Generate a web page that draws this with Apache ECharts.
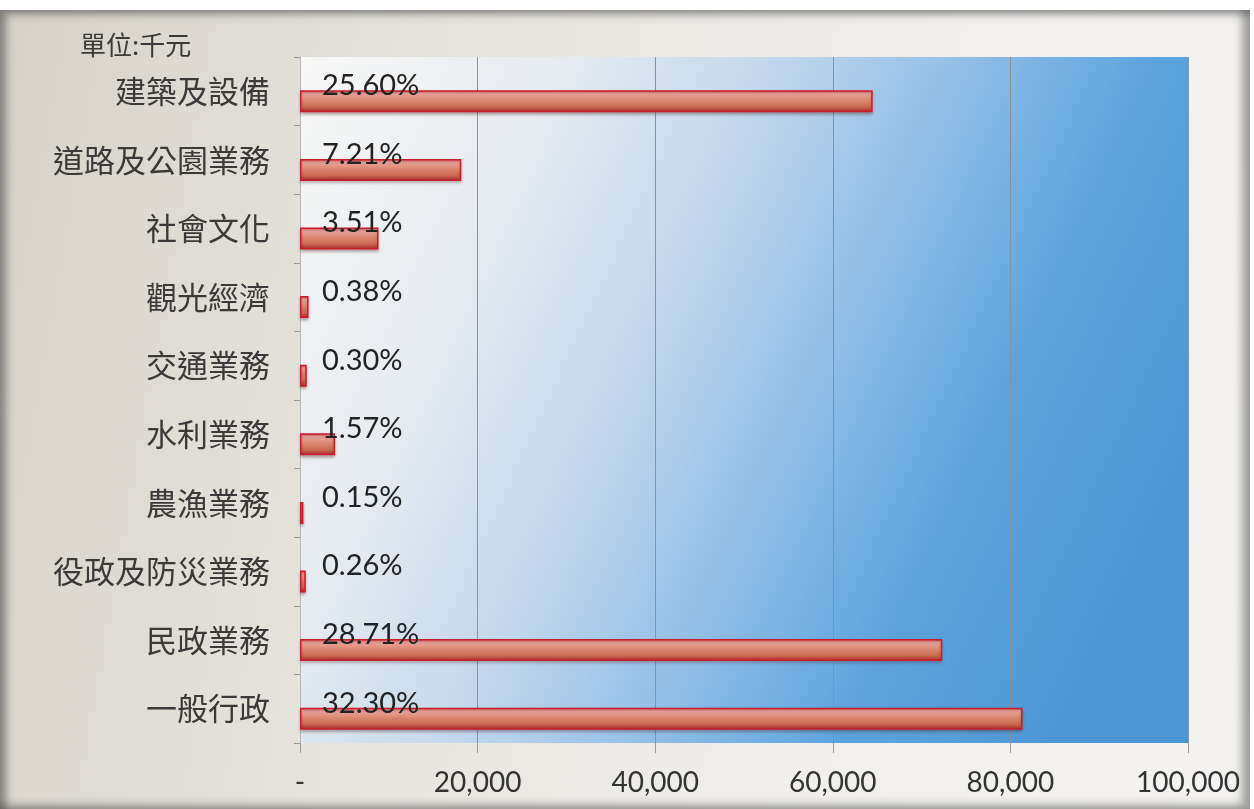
<!DOCTYPE html>
<html>
<head>
<meta charset="utf-8">
<script src="https://cdn.jsdelivr.net/npm/echarts@6/dist/echarts.min.js"></script>
<style>
  html, body { margin: 0; padding: 0; background: #ffffff; }
  #frame {
    position: absolute; left: 0; top: 10px; width: 1250px; height: 799px;
    background: linear-gradient(100deg, #d6d2ca 0%, #e6e3dd 30%, #f1f0ed 70%, #f4f3f1 100%);
    box-shadow: inset 6px 4px 8px rgba(60,60,60,0.55), inset -8px -4px 8px rgba(60,60,60,0.45);
  }
  #chart { position: absolute; left: 0; top: 0; width: 1254px; height: 809px; }
</style>
</head>
<body>
<div id="frame"></div>
<div id="chart"></div>
<script>
const categories = ['建築及設備', '道路及公園業務', '社會文化', '觀光經濟', '交通業務', '水利業務', '農漁業務', '役政及防災業務', '民政業務', '一般行政'];
const values = [64490, 18160, 8840, 960, 760, 3950, 380, 650, 72320, 81360];
const pctLabels = ['25.60%', '7.21%', '3.51%', '0.38%', '0.30%', '1.57%', '0.15%', '0.26%', '28.71%', '32.30%'];
const xTicks = [0, 20000, 40000, 60000, 80000, 100000];
const unitText = '單位:千元';

const chart = echarts.init(document.getElementById('chart'), null, { renderer: 'canvas' });
const latin = 'Lato, "Noto Sans CJK TC", sans-serif';
const cjk = '"Noto Sans CJK TC", sans-serif';

const option = {
  backgroundColor: 'transparent',
  animation: false,
  graphic: [{
    type: 'text', left: 80, top: 32,
    style: { text: unitText, font: '26px ' + cjk, fill: '#3a3a3a' }
  }],
  grid: {
    left: 300, right: 66, top: 57, bottom: 66,
    show: true, borderWidth: 0,
    backgroundColor: {
      type: 'linear', x: 0, y: 0, x2: 1, y2: 0.6,
      colorStops: [
        { offset: 0, color: '#f8f8f7' },
        { offset: 0.25, color: '#e6ebf0' },
        { offset: 0.375, color: '#cfdeec' },
        { offset: 0.44, color: '#c2d7ec' },
        { offset: 0.625, color: '#8fbde6' },
        { offset: 0.8, color: '#5ca3dc' },
        { offset: 1, color: '#4b97d6' }
      ]
    }
  },
  xAxis: {
    type: 'value', min: 0, max: 100000, interval: 20000,
    axisLine: { show: false },
    axisTick: { show: true, length: 10, lineStyle: { color: '#9a9a9a' } },
    splitLine: { show: true, lineStyle: { color: '#8c9196', width: 1 } },
    axisLabel: {
      margin: 26, fontSize: 28, color: '#333', fontFamily: latin,
      formatter: v => v === 0 ? '-' : v.toLocaleString('en-US'),
      customValues: xTicks
    }
  },
  yAxis: {
    type: 'category', data: categories, inverse: true,
    axisLine: { show: true, lineStyle: { color: '#b8b8b8' } },
    axisTick: { show: true, length: 6, alignWithLabel: false, lineStyle: { color: '#9a9a9a' } },
    axisLabel: { margin: 30, fontSize: 31, color: '#3a3a3a', fontFamily: cjk, padding: [8, 0, 0, 0] }
  },
  series: [{
    type: 'bar',
    data: values.map(() => 0),
    barWidth: 22,
    barGap: '-9%',
    itemStyle: { color: 'rgba(0,0,0,0)' },
    silent: true
  }, {
    type: 'bar',
    data: values,
    barWidth: 22,
    barGap: '-9%',
    itemStyle: {
      color: {
        type: 'linear', x: 0, y: 0, x2: 0, y2: 1,
        colorStops: [
          { offset: 0, color: '#d84848' },
          { offset: 0.15, color: '#f0aaa2' },
          { offset: 0.4, color: '#de8c76' },
          { offset: 0.75, color: '#c96a52' },
          { offset: 1, color: '#a8282a' }
        ]
      },
      borderColor: '#c81e2c',
      borderWidth: 1.5,
      shadowColor: 'rgba(80,40,40,0.35)',
      shadowBlur: 3,
      shadowOffsetY: 2
    },
    label: {
      show: true,
      position: [22, -19],
      formatter: p => pctLabels[p.dataIndex],
      fontSize: 29, color: '#222', fontFamily: latin
    }
  }]
};
chart.setOption(option);
</script>
</body>
</html>
